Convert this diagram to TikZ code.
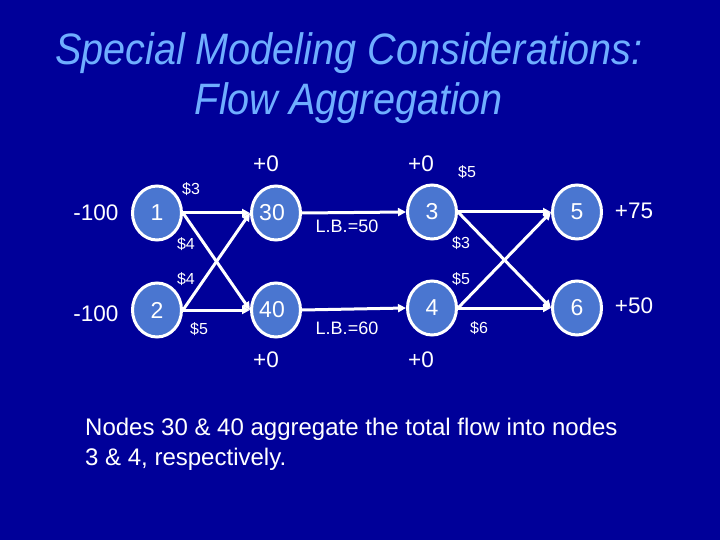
\documentclass[tikz,border=0pt]{standalone}
\usepackage{fontspec}
\setmainfont{Liberation Sans}
\newfontfamily\titlefont[FakeStretch=0.9]{Liberation Sans}
\usetikzlibrary{arrows.meta,shapes.geometric}
\definecolor{bg}{HTML}{000099}
\definecolor{titleblue}{HTML}{6FAEFF}
\definecolor{nodefill}{HTML}{4A76D0}
\tikzset{
  nd/.style={ellipse, draw=white, line width=3pt, fill=nodefill, minimum width=49pt, minimum height=54pt, inner sep=0pt, text=white, font=\fontsize{23}{23}\selectfont},
  lbl/.style={text=white, font=\fontsize{22.5}{22.5}\selectfont, inner sep=0pt},
  cost/.style={text=white, font=\fontsize{16}{16}\selectfont, inner sep=0pt},
  lbcost/.style={text=white, font=\fontsize{18}{18}\selectfont, inner sep=0pt},
  arc/.style={draw=white, line width=3pt, -{Triangle[length=8pt,width=8pt]}}
}
\begin{document}
\begin{tikzpicture}[x=1pt,y=-1pt]
\fill[bg] (0,0) rectangle (720,540);
\useasboundingbox (0,0) rectangle (720,540);
\node[text=titleblue, font=\titlefont\itshape\fontsize{44}{50}\selectfont, align=center] (title) at (349,78) {Special Modeling Considerations:\\Flow Aggregation};

\node[nd] (n1) at (157,213) {1};
\node[nd] (n2) at (157,310) {2};
\node[nd] (n30) at (276,213) {\hspace*{-8pt}30};
\node[nd] (n40) at (276,310) {\hspace*{-8pt}40};
\node[nd] (n3) at (432,212) {3};
\node[nd] (n4) at (432,308) {4};
\node[nd] (n5) at (577,212) {5};
\node[nd] (n6) at (577,308) {6};

\node[lbl] (s1) at (96,213) {-100};
\node[lbl] (s2) at (96,314) {-100};
\node[lbl] (a30) at (266,164) {+0};
\node[lbl] (b40) at (266,360) {+0};
\node[lbl] (a3) at (421,164) {+0};
\node[lbl] (b4) at (421,360) {+0};
\node[lbl] (d5) at (634,211) {+75};
\node[lbl] (d6) at (634,306) {+50};

\node[cost] (c13) at (191,189) {\$3};
\node[cost] (c14) at (186,244) {\$4};
\node[cost] (c23) at (186,279) {\$4};
\node[cost] (c24) at (199,329) {\$5};
\node[lbcost] (lb1) at (347,226) {L.B.=50};
\node[lbcost] (lb2) at (347,328) {L.B.=60};
\node[cost] (c35) at (467,172) {\$5};
\node[cost] (c36) at (461,243) {\$3};
\node[cost] (c45) at (461,279) {\$5};
\node[cost] (c46) at (479,328) {\$6};

\draw[arc] (n1.east) -- (n30.west);
\draw[arc] (n1.east) -- (n40.west);
\draw[arc] (n2.east) -- (n30.west);
\draw[arc] (n2.east) -- (n40.west);
\draw[arc] (n30.east) -- (n3.west);
\draw[arc] (n40.east) -- (n4.west);
\draw[arc] (n3.east) -- (n5.west);
\draw[arc] (n3.east) -- (n6.west);
\draw[arc] (n4.east) -- (n5.west);
\draw[arc] (n4.east) -- (n6.west);

\node[text=white, font=\fontsize{24}{30}\selectfont, align=left, anchor=north west, inner sep=0pt] (note) at (85,418) {Nodes 30 \& 40 aggregate the total flow into nodes\\3 \& 4, respectively.};
\end{tikzpicture}
\end{document}
